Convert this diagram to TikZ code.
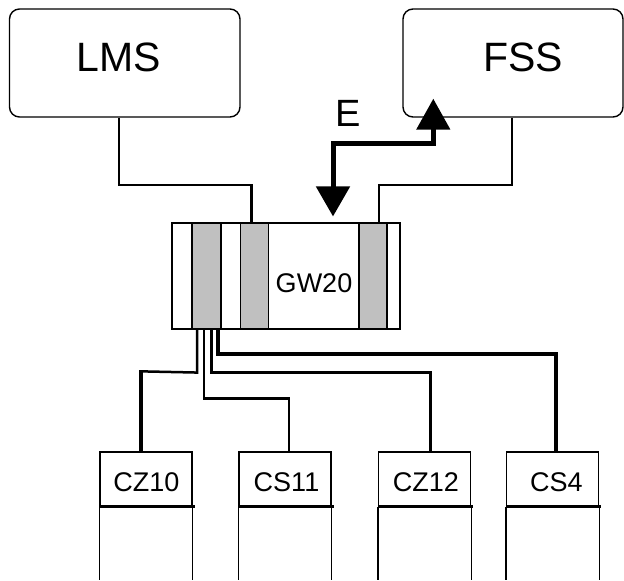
\documentclass[tikz,border=0pt]{standalone}
\usepackage{fontspec}
\setmainfont{Liberation Sans}
\usetikzlibrary{arrows.meta,calc}
\definecolor{bargray}{HTML}{C0C0C0}
\begin{document}
\begin{tikzpicture}[x=1pt,y=-1pt,
  sysbox/.style={draw, line width=1.4pt, rounded corners=10pt, minimum height=108pt, inner sep=0pt},
  bigtext/.style={inner sep=0pt, font=\fontsize{41}{41}\selectfont},
  gwbox/.style={draw, line width=1.1pt, minimum width=228pt, minimum height=106pt, inner sep=0pt},
  gwbar/.style={draw, line width=1.1pt, fill=bargray, minimum width=28pt, minimum height=106pt, inner sep=0pt},
  cbox/.style={draw, line width=1.3pt, minimum width=92pt, minimum height=54pt, inner sep=0pt},
  ctext/.style={inner sep=0pt, font=\fontsize{27}{27}\selectfont},
  conn/.style={line width=2.3pt},
  connthin/.style={line width=1.3pt},
  connmid/.style={line width=2.5pt},
  connthick/.style={line width=4pt},
  earrow/.style={line width=5pt, line join=miter,
    {Triangle[width=33pt,length=31pt]}-{Triangle[width=33pt,length=30pt]}},
]
\useasboundingbox (0,0) rectangle (624,581);

% top systems
\node[sysbox, minimum width=230.5pt] (lms) at (124.75,63) {};
\node[bigtext] (lmst) at (119,57) {LMS};
\node[sysbox, minimum width=220pt] (fss) at (513,63) {};
\node[bigtext] (fsst) at (523,57) {FSS};

% gateway
\node[gwbox] (gw) at (286,276) {};
\node[gwbar, minimum width=29pt] (bar1) at (206.5,276) {};
\node[gwbar] (bar2) at (254.5,276) {};
\node[gwbar] (bar3) at (373,276) {};
\node[ctext] (gwt) at (314,283) {GW20};

% E arrow
\node[inner sep=0pt, font=\fontsize{38}{38}\selectfont] (et) at (348,113) {E};
\draw[earrow] ($(fss.south west)+(31,-19)$) -- ++(0,45) -| ($(gw.north)+(47,-6)$);

% top connectors
\draw[conn] ($(lms.south)+(-6,0)$) -- ++(0,67) -| ($(bar2.north)+(-3,0)$);
\draw[conn] ($(fss.south)+(-1,0)$) -- ++(0,67) -| ($(bar3.north)+(6,0)$);

% bottom boxes
\foreach \nm/\cx/\lab/\tx in {cz10/146/CZ10/146.5, cs11/285/CS11/286.5, cz12/424.5/CZ12/426, cs4/552.5/CS4/556.5}{
  \node[cbox] (\nm) at (\cx,479) {};
  \node[ctext] (\nm t) at (\tx,482) {\lab};
  \draw[line width=1.3pt] (\nm.south west) -- ++(0,73);
  \draw[line width=1.3pt] (\nm.south east) -- ++(0,73);
  \draw[line width=3pt] (\nm.south west) -- ($(\nm.south east)+(2,0)$);
}

% bottom connectors
\draw[connthick] ($(bar1.south)+(11.5,0)$) -- ++(0,24) -| ($(cs4.north)+(3,0)$);
\draw[connmid] ($(bar1.south)+(5,0)$) -- ++(0,43) -| ($(cz12.north)+(6,0)$);
\draw[connthin] ($(bar1.south)+(-2.5,0)$) -- ++(0,69);
\draw[connmid] ($(bar1.south)+(-3.5,69)$) -| ($(cs11.north)+(4,0)$);
\draw[connmid] ($(bar1.south)+(-9.5,0)$) -- ++(0,43) -- ($(cz10.north)+(-5,-80)$);
\draw[connthick] ($(cz10.north)+(-5,-81)$) -- (cz10.north -| {$(cz10.north)+(-5,0)$});
\end{tikzpicture}
\end{document}
